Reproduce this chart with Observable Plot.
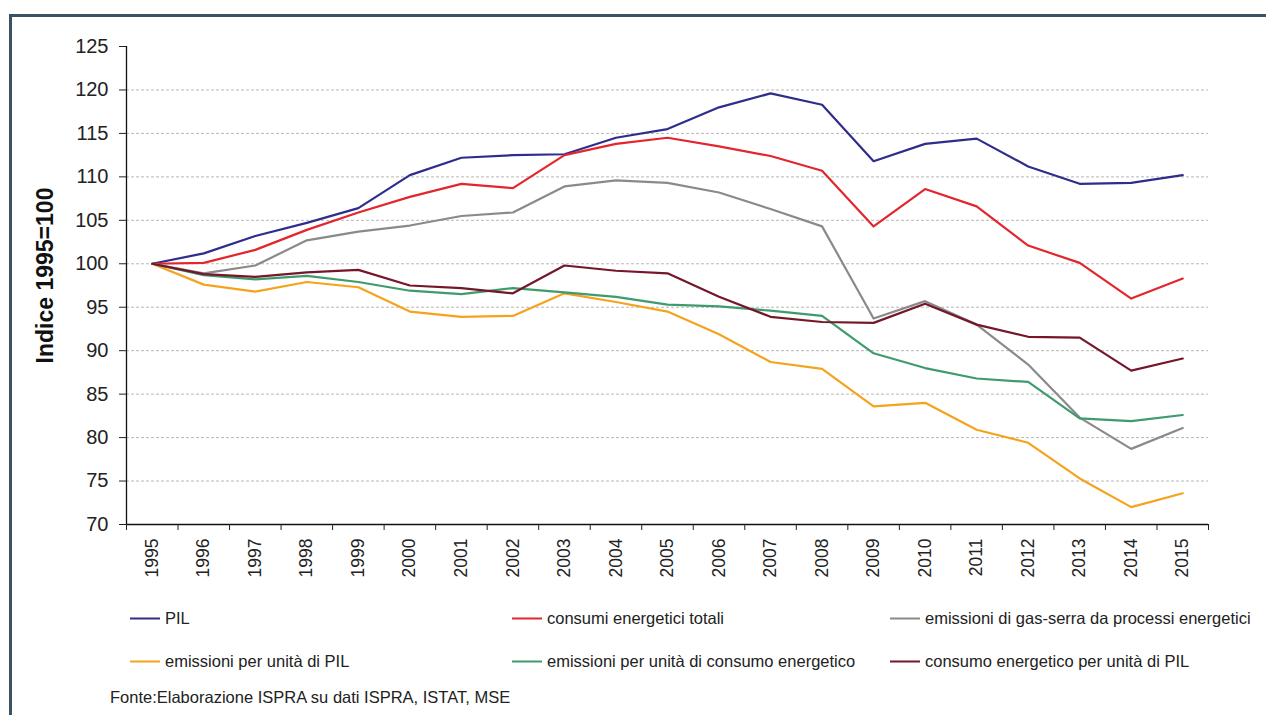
<!DOCTYPE html>
<html><head><meta charset="utf-8">
<script src="https://cdn.jsdelivr.net/npm/d3@7"></script>
<script src="https://cdn.jsdelivr.net/npm/@observablehq/plot@0.6"></script>
<style>
body{margin:0;background:#fff;font-family:"Liberation Sans",Arial,sans-serif;width:1266px;height:715px;overflow:hidden;position:relative;}
#frame{position:absolute;left:9px;top:14px;width:1400px;height:800px;border-left:3px solid #3b5264;border-top:3px solid #3b5264;}
#chart{position:absolute;left:0;top:0;}
.leg{position:absolute;display:flex;align-items:center;font-size:16.5px;color:#222;white-space:nowrap;transform:translateY(-50%);}
.leg .sw{display:inline-block;width:30px;height:2px;margin-right:5px;}
#src{position:absolute;left:110px;top:697px;transform:translateY(-50%);font-size:16.5px;color:#222;white-space:nowrap;}
</style></head><body>
<div id="frame"></div><div id="chart"></div><div id="legend"></div><div id="src"></div>
<script>
const years = [1995,1996,1997,1998,1999,2000,2001,2002,2003,2004,2005,2006,2007,2008,2009,2010,2011,2012,2013,2014,2015];
const seriesNames = ["PIL","consumi energetici totali","emissioni di gas-serra da processi energetici","emissioni per unità di PIL","emissioni per unità di consumo energetico","consumo energetico per unità di PIL"];
const seriesColors = ["#2e2d8c","#e3262d","#8a8a8a","#f5a31c","#3e9b6e","#74172b"];
const pil = [100,101.2,103.2,104.7,106.4,110.2,112.2,112.5,112.6,114.5,115.5,118.0,119.6,118.3,111.8,113.8,114.4,111.2,109.2,109.3,110.2];
const consumi = [100,100.1,101.6,103.9,105.9,107.7,109.2,108.7,112.5,113.8,114.5,113.5,112.4,110.7,104.3,108.6,106.6,102.1,100.1,96.0,98.3];
const gasSerra = [100,98.9,99.8,102.7,103.7,104.4,105.5,105.9,108.9,109.6,109.3,108.2,106.3,104.3,93.7,95.7,93.0,88.4,82.3,78.7,81.1];
const emissioniPil = [100,97.6,96.8,97.9,97.3,94.5,93.9,94.0,96.6,95.6,94.5,91.9,88.7,87.9,83.6,84.0,80.9,79.4,75.3,72.0,73.6];
const emissioniConsumo = [100,98.7,98.2,98.6,97.9,96.9,96.5,97.2,96.7,96.2,95.3,95.1,94.6,94.0,89.7,88.0,86.8,86.4,82.2,81.9,82.6];
const consumoPil = [100,98.8,98.5,99.0,99.3,97.5,97.2,96.6,99.8,99.2,98.9,96.2,93.9,93.3,93.2,95.4,93.0,91.6,91.5,87.7,89.1];
const yTicks = [70,75,80,85,90,95,100,105,110,115,120,125];
const yLabel = "Indice 1995=100";
const source = "Fonte:Elaborazione ISPRA su dati ISPRA, ISTAT, MSE";

const allSeries = [pil, consumi, gasSerra, emissioniPil, emissioniConsumo, consumoPil];
const data = [];
allSeries.forEach((vals, i) => vals.forEach((v, j) => data.push({series: seriesNames[i], year: years[j], value: v})));
const xDomain = [years[0] - 0.5, years[years.length - 1] + 0.5];
const boundaries = years.map(y => y - 0.5).concat([years[years.length - 1] + 0.5]);
const gridTicks = yTicks.filter(t => t > yTicks[0] && t < yTicks[yTicks.length - 1]);

const chart = Plot.plot({
  width: 1266, height: 600,
  marginLeft: 126, marginRight: 58, marginTop: 46, marginBottom: 76,
  x: {type: "linear", domain: xDomain},
  y: {domain: [yTicks[0], yTicks[yTicks.length - 1]]},
  color: {domain: seriesNames, range: seriesColors},
  style: {fontFamily: '"Liberation Sans", Arial, sans-serif', color: "#222", background: "transparent", overflow: "visible"},
  marks: [
    Plot.ruleY(gridTicks, {stroke: "#b8b8b8", strokeDasharray: "3,2", strokeWidth: 1}),
    Plot.ruleX([xDomain[0]], {stroke: "#111", strokeWidth: 1.3}),
    Plot.ruleY([yTicks[0]], {stroke: "#111", strokeWidth: 1.3}),
    Plot.axisY({ticks: yTicks, tickSize: 7, tickPadding: 11, label: null, fontSize: 20, tickFormat: d => String(d)}),
    Plot.axisX({ticks: years, tickSize: 0, tickPadding: 14, tickRotate: -90, label: null, fontSize: 17.5, tickFormat: d => String(d)}),
    Plot.axisX({ticks: boundaries, tickSize: 6, tickFormat: () => "", label: null}),
    Plot.lineY(data, {x: "year", y: "value", z: "series", stroke: "series", strokeWidth: 2.2}),
    Plot.text([yLabel], {text: d => d, frameAnchor: "left", textAnchor: "middle", rotate: -90, dx: -81, dy: -10, fontSize: 23, fontWeight: "bold", fill: "#111"})
  ]
});
document.getElementById("chart").appendChild(chart);

const legend = document.getElementById("legend");
const colX = [130, 512, 890];
const rowY = [618, 661];
seriesNames.forEach((name, i) => {
  const d = document.createElement("div");
  d.className = "leg";
  d.style.left = colX[i % 3] + "px";
  d.style.top = rowY[Math.floor(i / 3)] + "px";
  const sw = document.createElement("span");
  sw.className = "sw";
  sw.style.background = seriesColors[i];
  d.appendChild(sw);
  d.appendChild(document.createTextNode(name));
  legend.appendChild(d);
});
document.getElementById("src").textContent = source;
</script>
</body></html>
